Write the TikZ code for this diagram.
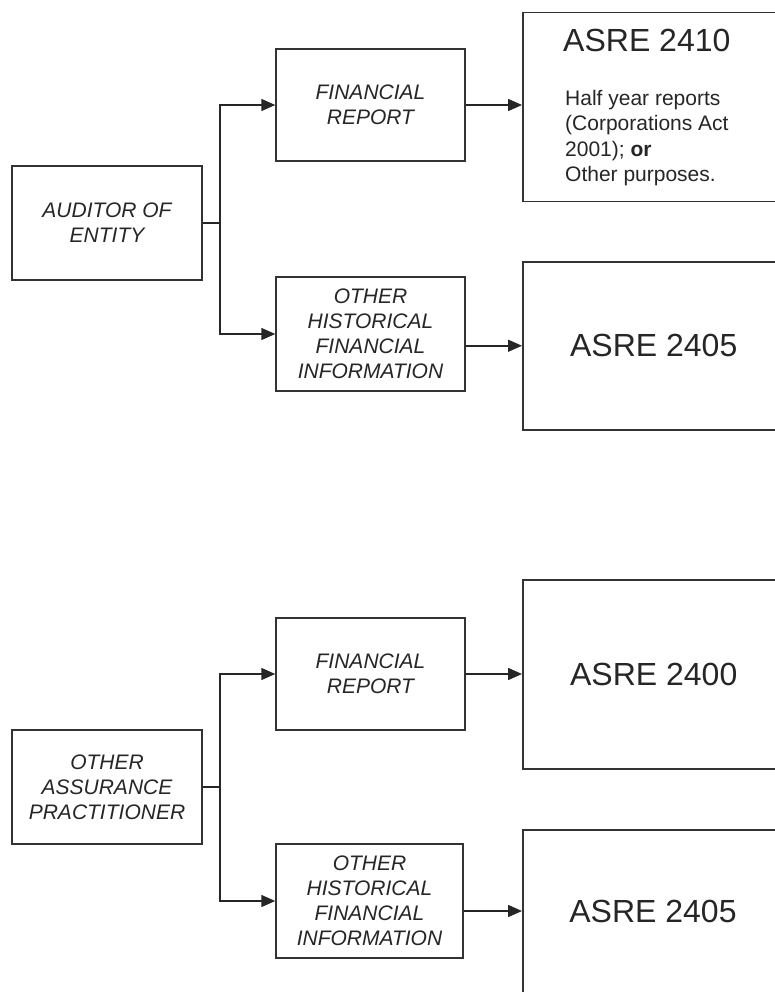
\documentclass[tikz,border=0pt]{standalone}
\usepackage{fontspec}
\setmainfont{Liberation Sans}
\usetikzlibrary{arrows.meta}
\begin{document}
\begin{tikzpicture}[x=1pt,y=-1pt,
  box/.style={draw=black!80, line width=1.5pt, rectangle, inner sep=0pt, align=center,
    font=\fontsize{21}{25}\selectfont\itshape, text=black!85},
  bigbox/.style={draw=black!80, line width=1.5pt, rectangle, inner sep=0pt, anchor=north west,
    minimum width=262pt, font=\fontsize{32}{36}\selectfont, text=black!85},
  bigtext/.style={inner sep=0pt, font=\fontsize{32}{36}\selectfont, text=black!85},
  conn/.style={draw=black!85, line width=1.5pt},
  arr/.style={conn, -{Triangle[length=14pt,width=12pt]}}]
\useasboundingbox (0,0) rectangle (775,992);
\clip (0,0) rectangle (775,992);
\fill[white] (0,0) rectangle (775,992);

% upper group
\node[box, minimum width=190pt, minimum height=114pt] (A1) at (107,223) {AUDITOR OF\\ENTITY};
\node[box, minimum width=189pt, minimum height=112pt] (F1) at (370.5,105) {FINANCIAL\\REPORT};
\node[box, minimum width=189pt, minimum height=114pt] (H1) at (370.5,334) {OTHER\\HISTORICAL\\FINANCIAL\\INFORMATION};
\node[bigbox, minimum height=189pt] (R1) at (522,12) {};
\node[bigtext, anchor=base west] (R1t) at (563,52) {ASRE 2410};
\node[anchor=north west, align=left, inner sep=0pt, font=\fontsize{21}{25.3}\selectfont, text=black!85] (R1b) at (565,90)
  {Half year reports\\(Corporations Act\\2001); \textbf{or}\\Other purposes.};
\node[bigbox, minimum height=168pt] (R2) at (522,261) {ASRE 2405};

\coordinate (j1) at (220,223);
\draw[conn] (A1.east) -- (j1);
\draw[arr] (j1) |- (F1.west);
\draw[arr] (j1) |- (H1.west);
\draw[arr] (F1.east) -- (R1.west |- F1.east);
\draw[arr] (H1.east |- R2.west) -- (R2.west);

% lower group
\node[box, minimum width=190pt, minimum height=114pt] (A2) at (107,787) {OTHER\\ASSURANCE\\PRACTITIONER};
\node[box, minimum width=189pt, minimum height=112pt] (F2) at (370.5,674) {FINANCIAL\\REPORT};
\node[box, minimum width=187pt, minimum height=114pt] (H2) at (369.5,901) {OTHER\\HISTORICAL\\FINANCIAL\\INFORMATION};
\node[bigbox, minimum height=189pt] (R3) at (522,579) {ASRE 2400};
\node[bigbox, minimum height=190pt] (R4) at (522,829) {};
\node[bigtext] (R4t) at (653,911) {ASRE 2405};

\coordinate (j2) at (220,787);
\draw[conn] (A2.east) -- (j2);
\draw[arr] (j2) |- (F2.west);
\draw[arr] (j2) |- (H2.west);
\draw[arr] (F2.east) -- (R3.west |- F2.east);
\draw[arr] (H2.east |- R4t.west) -- (R4.west |- R4t.west);
\end{tikzpicture}
\end{document}
